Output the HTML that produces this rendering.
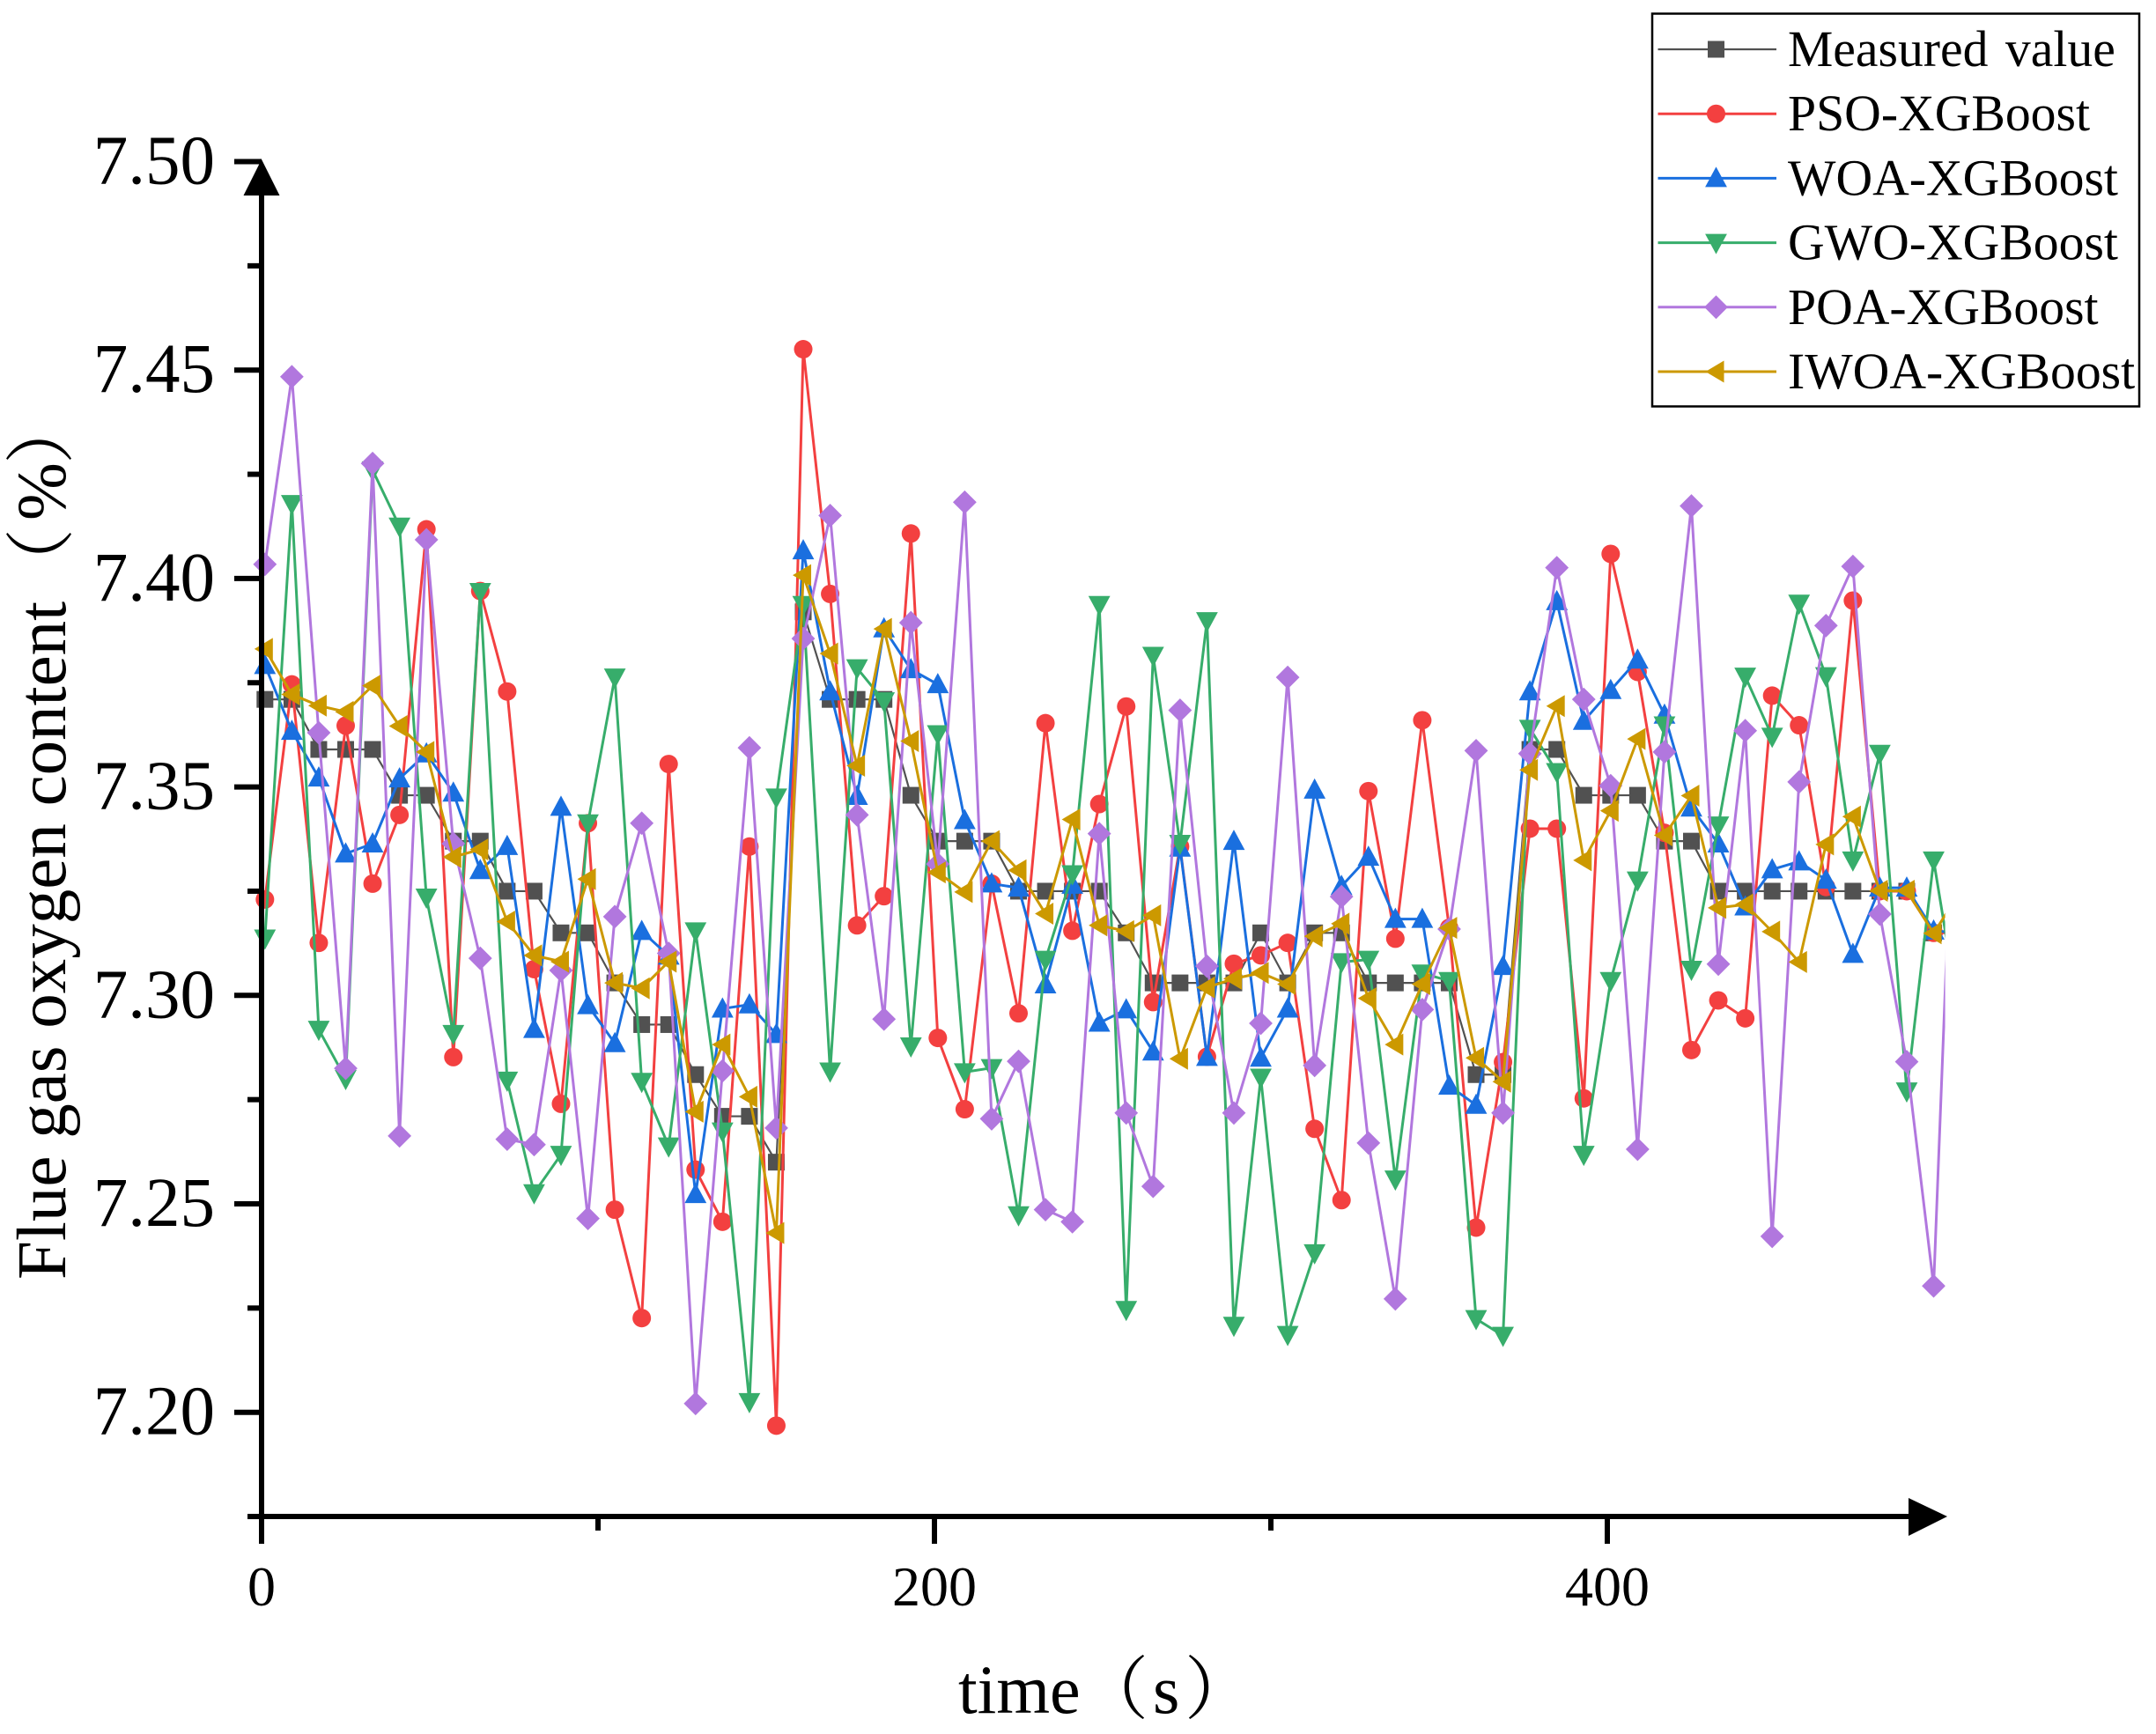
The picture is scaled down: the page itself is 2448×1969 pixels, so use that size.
<!DOCTYPE html>
<html lang="en">
<head>
<meta charset="utf-8">
<title>Flue gas oxygen content chart</title>
<style>
html,body{margin:0;padding:0;background:#fff;width:2448px;height:1969px;overflow:hidden}
svg{display:block}
text{font-family:"Liberation Serif","Noto Serif CJK SC",serif;fill:#000}
</style>
</head>
<body>
<svg id="chart" xmlns="http://www.w3.org/2000/svg" width="2448" height="1969" viewBox="0 0 2448 1969">
  <rect x="0" y="0" width="2448" height="1969" fill="#ffffff"/>
  <defs>
    <clipPath id="plot-clip"><rect x="250" y="100" width="1958.6" height="1660"/></clipPath>
  </defs>
  <g id="series-layer" clip-path="url(#plot-clip)"></g>
  <g id="axis-layer"></g>
  <text transform="translate(74,1453) rotate(-90)" font-size="79">Flue gas oxygen content<tspan x="774">（</tspan><tspan x="862">%</tspan><tspan x="926">）</tspan></text>
  <text y="1945" font-size="78"><tspan x="1088">time</tspan><tspan x="1226">（</tspan><tspan x="1309">s</tspan><tspan x="1345">）</tspan></text>
  <g id="legend-layer"></g>
</svg>
<script>
const times = [1,9,17,25,33,41,49,57,65,73,81,89,97,105,113,121,129,137,145,153,161,169,177,185,193,201,209,217,225,233,241,249,257,265,273,281,289,297,305,313,321,329,337,345,353,361,369,377,385,393,401,409,417,425,433,441,449,457,465,473,481,489,497,505];
const measured = [7.371,7.371,7.359,7.359,7.359,7.348,7.348,7.337,7.337,7.325,7.325,7.315,7.315,7.303,7.293,7.293,7.281,7.271,7.271,7.260,7.392,7.371,7.371,7.371,7.348,7.337,7.337,7.337,7.325,7.325,7.325,7.325,7.315,7.303,7.303,7.303,7.303,7.315,7.303,7.315,7.315,7.303,7.303,7.303,7.303,7.281,7.281,7.359,7.359,7.348,7.348,7.348,7.337,7.337,7.325,7.325,7.325,7.325,7.325,7.325,7.325,7.325,7.315,7.315];
const pso = [7.323,7.3746,7.3126,7.3647,7.3268,7.3433,7.4118,7.2852,7.397,7.3729,7.3063,7.274,7.3413,7.2486,7.2226,7.3555,7.2582,7.2457,7.3357,7.1968,7.455,7.3963,7.3168,7.3238,7.4108,7.2898,7.2727,7.3268,7.2957,7.3653,7.3155,7.3459,7.3693,7.2984,7.3357,7.2853,7.3076,7.3096,7.3126,7.268,7.2509,7.349,7.3136,7.366,7.3162,7.2443,7.284,7.34,7.34,7.2753,7.4059,7.3776,7.339,7.2869,7.2988,7.2945,7.3719,7.3648,7.326,7.3947,7.325,7.325,7.315,7.315];
const woa = [7.3792,7.3634,7.3522,7.334,7.3364,7.352,7.358,7.3486,7.33,7.3358,7.2919,7.3452,7.2976,7.2885,7.3154,7.3095,7.2523,7.2968,7.2978,7.2907,7.4067,7.3729,7.3478,7.388,7.3782,7.3746,7.342,7.3268,7.3258,7.3026,7.3265,7.2934,7.2966,7.2865,7.3354,7.2852,7.337,7.285,7.2968,7.3493,7.3262,7.3332,7.3183,7.3183,7.2783,7.2737,7.307,7.3729,7.3945,7.3658,7.3732,7.3805,7.3673,7.345,7.3364,7.3213,7.3302,7.3321,7.3277,7.3099,7.3258,7.3258,7.3155,7.315];
const gwo = [7.3137,7.4179,7.2918,7.28,7.426,7.4125,7.3235,7.2908,7.3968,7.2796,7.2526,7.2618,7.3413,7.3763,7.2793,7.2638,7.3154,7.2674,7.2025,7.3475,7.3937,7.2818,7.3785,7.3706,7.2878,7.3627,7.2816,7.2826,7.2473,7.3086,7.3291,7.3937,7.2246,7.3815,7.3364,7.3898,7.2208,7.2803,7.2186,7.2382,7.308,7.3086,7.2559,7.3053,7.3035,7.2224,7.2184,7.364,7.3536,7.2618,7.3035,7.3276,7.3648,7.3062,7.3408,7.3765,7.3621,7.394,7.3766,7.3324,7.358,7.277,7.3324,7.293];
const poa = [7.4034,7.4484,7.363,7.2825,7.4276,7.2663,7.4093,7.3364,7.3089,7.2655,7.2642,7.306,7.2465,7.3189,7.3413,7.3101,7.2021,7.2819,7.3594,7.2682,7.3856,7.4151,7.3433,7.2943,7.3894,7.3315,7.4183,7.2704,7.2842,7.2486,7.2457,7.3388,7.2718,7.2542,7.3684,7.307,7.2718,7.2933,7.3763,7.2832,7.3237,7.2646,7.2272,7.2966,7.3159,7.3587,7.2718,7.358,7.4026,7.371,7.3503,7.2631,7.3584,7.4174,7.3075,7.3635,7.2422,7.3512,7.3887,7.4029,7.3195,7.2841,7.2303,7.396];
const iwoa = [7.3831,7.3722,7.3695,7.368,7.3743,7.3646,7.3584,7.3332,7.335,7.3177,7.3096,7.3081,7.3279,7.303,7.3017,7.3081,7.2721,7.2882,7.2757,7.243,7.4008,7.382,7.3551,7.3879,7.361,7.3295,7.3248,7.337,7.33,7.3196,7.3422,7.3168,7.3154,7.3192,7.2848,7.3019,7.304,7.3054,7.3027,7.3142,7.3172,7.2993,7.2882,7.3027,7.3162,7.285,7.2793,7.3541,7.3694,7.3324,7.3443,7.3615,7.3384,7.3479,7.321,7.3218,7.3153,7.308,7.3362,7.3429,7.3251,7.3251,7.3149,7.325];
const seriesNames = ["Measured value","PSO-XGBoost","WOA-XGBoost","GWO-XGBoost","POA-XGBoost","IWOA-XGBoost"];
const yMajorTicks = [7.2,7.25,7.3,7.35,7.4,7.45,7.5];
const yTickLabels = ["7.20","7.25","7.30","7.35","7.40","7.45","7.50"];
const yMinorTicks = [7.175,7.225,7.275,7.325,7.375,7.425,7.475];
const xMajorTicks = [0,200,400];
const xTickLabels = ["0","200","400"];
const xMinorTicks = [100,300];

const NS = "http://www.w3.org/2000/svg";
function xScale(t){ return 297 + 3.82 * t; }
function yScale(v){ return 183.5 + (7.5 - v) * 4734; }
function make(tag, attrs, parent){
  const el = document.createElementNS(NS, tag);
  for (const k in attrs) el.setAttribute(k, attrs[k]);
  if (parent) parent.appendChild(el);
  return el;
}
function marker(kind, cx, cy, color, parent){
  if (kind === "square") return make("rect", {x:cx-9.5, y:cy-9.5, width:19, height:19, fill:color}, parent);
  if (kind === "circle") return make("circle", {cx:cx, cy:cy, r:10.5, fill:color}, parent);
  var pts;
  if (kind === "up") pts = [[cx,cy-13],[cx+12.4,cy+10],[cx-12.4,cy+10]];
  if (kind === "down") pts = [[cx,cy+13],[cx+12.4,cy-10],[cx-12.4,cy-10]];
  if (kind === "diamond") pts = [[cx,cy-13.4],[cx+13.4,cy],[cx,cy+13.4],[cx-13.4,cy]];
  if (kind === "left") pts = [[cx-12,cy],[cx+9,cy-12.5],[cx+9,cy+12.5]];
  return make("polygon", {points:pts.map(function(p){return p.join(",");}).join(" "), fill:color}, parent);
}

const colors = ["#515151","#F34040","#1A6FDF","#37AD6B","#B177DE","#CC9900"];
const lineWidths = [2.2,3,3,3,3,3];
const kinds = ["square","circle","up","down","diamond","left"];
const slugs = ["measured","pso","woa","gwo","poa","iwoa"];
const allSeries = [measured,pso,woa,gwo,poa,iwoa];

const seriesLayer = document.getElementById("series-layer");
allSeries.forEach(function(values, s){
  const group = make("g", {}, seriesLayer);
  
  
  const line = make("polyline", {
    points: values.map(function(v,i){ return xScale(times[i]) + "," + yScale(v); }).join(" "),
    fill: "none", stroke: colors[s], "stroke-width": lineWidths[s], "stroke-linejoin": "miter"
  }, group);
  
  
  values.forEach(function(v,i){
    const mark = marker(kinds[s], xScale(times[i]), yScale(v), colors[s], group);
    
    
  });
});

const axisLayer = document.getElementById("axis-layer");
const yLine = make("line", {x1:297, y1:200, x2:297, y2:1753, stroke:"#000", "stroke-width":6}, axisLayer);


const xLine = make("line", {x1:281, y1:1722, x2:2180, y2:1722, stroke:"#000", "stroke-width":6}, axisLayer);


const yArrow = make("polygon", {points:"297,181 276.5,222 317.5,222", fill:"#000"}, axisLayer);


const xArrow = make("polygon", {points:"2211,1722 2167,1701 2167,1744", fill:"#000"}, axisLayer);



yMajorTicks.forEach(function(v,i){
  const y = yScale(v);
  const tick = make("line", {x1:266, y1:y, x2:297, y2:y, stroke:"#000", "stroke-width":6}, axisLayer);
  
  
  const label = make("text", {x:244, y:y+25, "text-anchor":"end", "font-size":79}, axisLayer);
  label.textContent = yTickLabels[i];
  
  
});
yMinorTicks.forEach(function(v){
  const y = yScale(v);
  const tick = make("line", {x1:281, y1:y, x2:297, y2:y, stroke:"#000", "stroke-width":6}, axisLayer);
  
  
});
xMajorTicks.forEach(function(t,i){
  const x = xScale(t);
  const tick = make("line", {x1:x, y1:1722, x2:x, y2:1753, stroke:"#000", "stroke-width":6}, axisLayer);
  
  
  const label = make("text", {x:x, y:1823, "text-anchor":"middle", "font-size":64}, axisLayer);
  label.textContent = xTickLabels[i];
  
  
});
xMinorTicks.forEach(function(t){
  const x = xScale(t);
  const tick = make("line", {x1:x, y1:1722, x2:x, y2:1738, stroke:"#000", "stroke-width":6}, axisLayer);
  
  
});

const legendLayer = document.getElementById("legend-layer");
const legendBox = make("rect", {x:1876, y:15.5, width:553, height:446, fill:"#fff", stroke:"#000", "stroke-width":2.5}, legendLayer);


seriesNames.forEach(function(name,s){
  const rowY = 56 + s * 73.2;
  const entry = make("g", {}, legendLayer);
  
  
  const swatch = make("line", {x1:1882.5, y1:rowY, x2:2017, y2:rowY, stroke:colors[s], "stroke-width":lineWidths[s]}, entry);
  
  
  const sym = marker(kinds[s], 1948.5, rowY, colors[s], entry);
  
  
  const label = make("text", {x:2030, y:rowY+19, "font-size":57.7, "word-spacing":5}, entry);
  label.textContent = name;
  
  
});
</script>
</body>
</html>
